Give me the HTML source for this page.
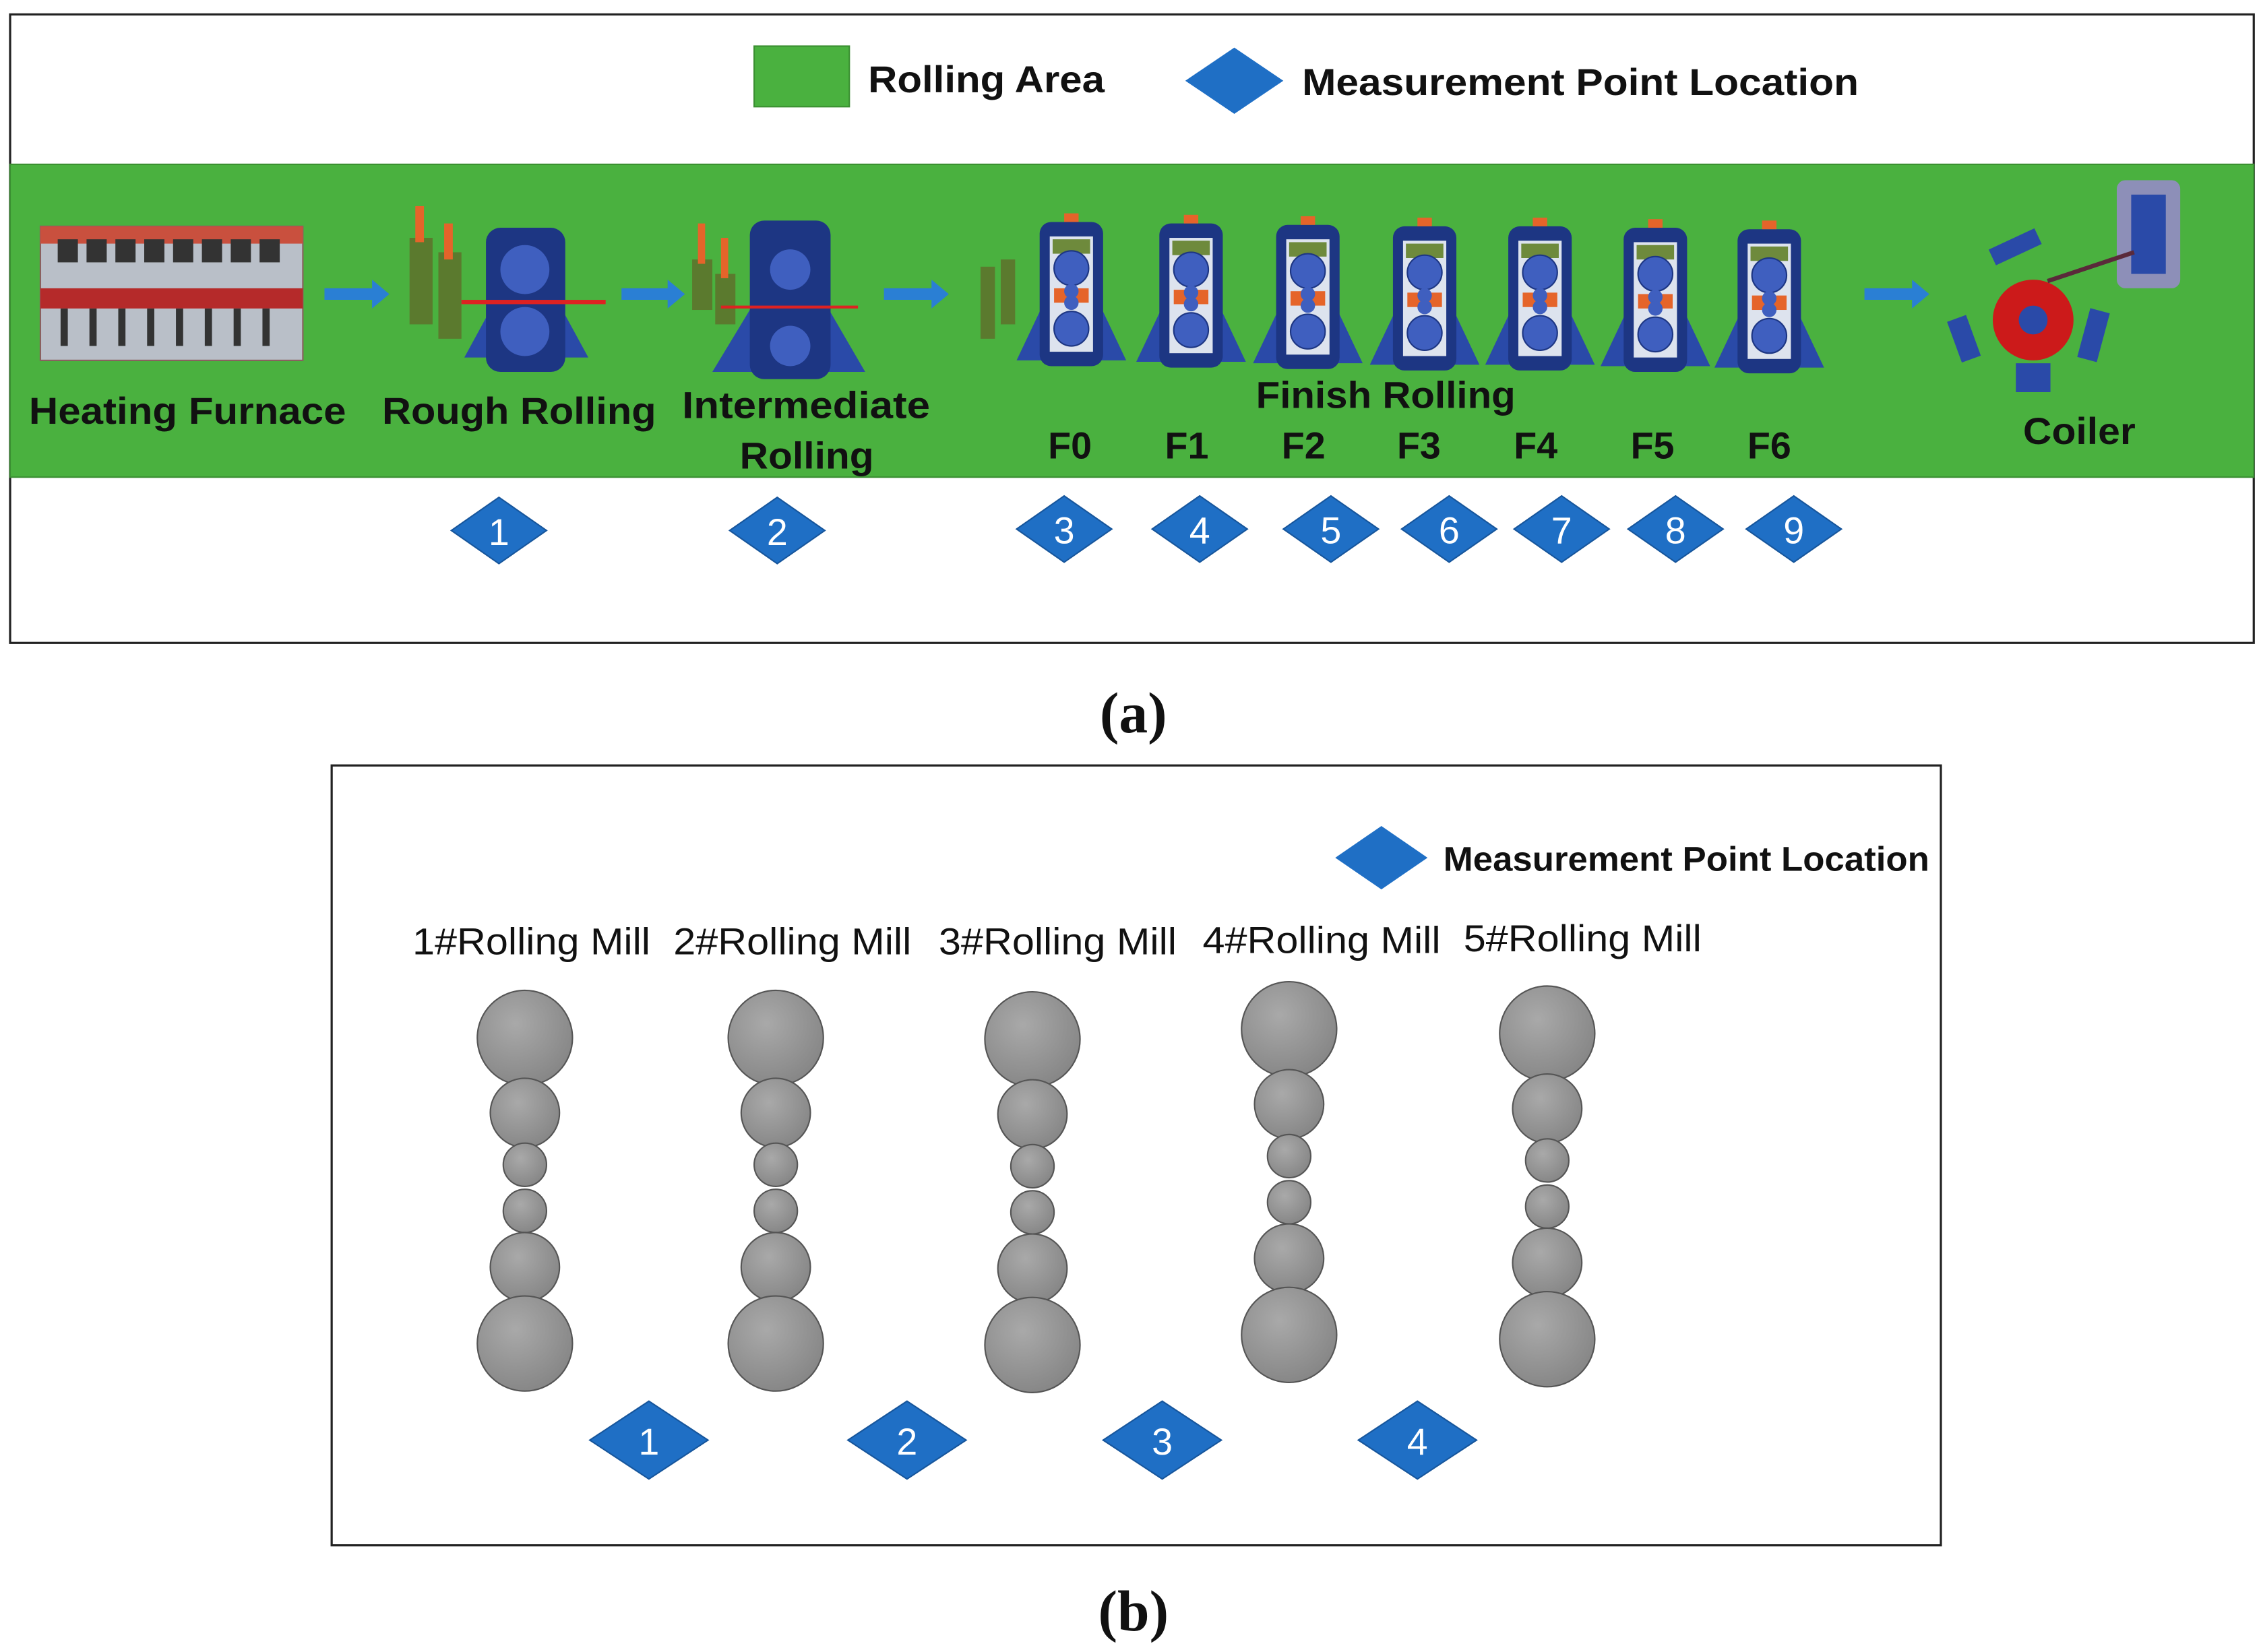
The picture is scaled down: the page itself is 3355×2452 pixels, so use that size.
<!DOCTYPE html>
<html><head><meta charset="utf-8">
<style>
html,body{margin:0;padding:0;background:#fff;}
svg{display:block;}
.s{font-family:"Liberation Sans",sans-serif;}
.r{font-family:"Liberation Serif",serif;}
</style></head>
<body>
<svg width="3355" height="2452" viewBox="0 0 1568 1146" xmlns="http://www.w3.org/2000/svg" class="s">
<defs>
  <g id="dia"><polygon points="-33,0 0,-23 33,0 0,23" fill="#1F6FC5" stroke="#17569c" stroke-width="1"/></g>
  <g id="dib"><polygon points="-41,0 0,-27 41,0 0,27" fill="#1F6FC5" stroke="#17569c" stroke-width="1"/></g>
  <radialGradient id="rg" cx="0.4" cy="0.35" r="0.7">
    <stop offset="0" stop-color="#a9a9a9"/><stop offset="1" stop-color="#858585"/>
  </radialGradient>
  <g id="stand">
    <polygon points="-38,48 -20,10 20,10 38,48" fill="#2a4aa8"/>
    <rect x="-22" y="-48" width="44" height="100" rx="8" fill="#1d3683"/>
    <rect x="-15" y="-38" width="30" height="80" fill="#dde3ee"/>
    <rect x="-13" y="-36" width="26" height="10" fill="#6e8a3c"/>
    <circle cx="0" cy="-16" r="12" fill="#3f5fbf" stroke="#1d3683"/>
    <circle cx="0" cy="26" r="12" fill="#3f5fbf" stroke="#1d3683"/>
    <rect x="-12" y="-2" width="24" height="10" fill="#e5642a"/>
    <circle cx="0" cy="0" r="5" fill="#3f5fbf"/><circle cx="0" cy="8" r="5" fill="#3f5fbf"/>
    <rect x="-5" y="-54" width="10" height="6" fill="#e5642a"/>
  </g>
</defs>

<rect x="7" y="10" width="1556" height="436" fill="#fff" stroke="#222" stroke-width="1.5"/>
<rect x="7" y="114" width="1556" height="217" fill="#4AB13F" stroke="#3a8f31" stroke-width="1"/>

<rect x="523" y="32" width="66" height="42" fill="#4AB13F" stroke="#3a8f31"/>
<text x="602" y="64" font-size="26" font-weight="bold" fill="#111" textLength="164" lengthAdjust="spacingAndGlyphs">Rolling Area</text>
<polygon points="822,56 856,33 890,56 856,79" fill="#1F6FC5"/>
<text x="903" y="66" font-size="26" font-weight="bold" fill="#111" textLength="386" lengthAdjust="spacingAndGlyphs">Measurement Point Location</text>

<rect x="28" y="157" width="182" height="93" fill="#b9bfc8" stroke="#8a6060"/>
<rect x="28" y="157" width="182" height="12" fill="#c9503e"/>
<rect x="28" y="200" width="182" height="14" fill="#b52a2a"/>
<g fill="#333">
<rect x="40" y="166" width="14" height="16"/><rect x="60" y="166" width="14" height="16"/><rect x="80" y="166" width="14" height="16"/><rect x="100" y="166" width="14" height="16"/><rect x="120" y="166" width="14" height="16"/><rect x="140" y="166" width="14" height="16"/><rect x="160" y="166" width="14" height="16"/><rect x="180" y="166" width="14" height="16"/>
<rect x="42" y="214" width="5" height="26"/><rect x="62" y="214" width="5" height="26"/><rect x="82" y="214" width="5" height="26"/><rect x="102" y="214" width="5" height="26"/><rect x="122" y="214" width="5" height="26"/><rect x="142" y="214" width="5" height="26"/><rect x="162" y="214" width="5" height="26"/><rect x="182" y="214" width="5" height="26"/>
</g>
<g fill="#2a7fd4">
<polygon points="225,200 258,200 258,194 270,204 258,214 258,208 225,208"/>
<polygon points="431,200 463,200 463,194 475,204 463,214 463,208 431,208"/>
<polygon points="613,200 646,200 646,194 658,204 646,214 646,208 613,208"/>
<polygon points="1293,200 1326,200 1326,194 1338,204 1326,214 1326,208 1293,208"/>
</g>
<g><rect x="284" y="165" width="16" height="60" fill="#5b7a2e"/><rect x="288" y="143" width="6" height="25" fill="#e5642a"/>
<rect x="304" y="175" width="16" height="60" fill="#5b7a2e"/><rect x="308" y="155" width="6" height="25" fill="#e5642a"/>
<polygon points="322,248 340,215 390,215 408,248" fill="#2a4aa8"/>
<rect x="337" y="158" width="55" height="100" rx="10" fill="#1d3683"/>
<circle cx="364" cy="187" r="17" fill="#3f5fbf"/><circle cx="364" cy="230" r="17" fill="#3f5fbf"/>
<rect x="320" y="208" width="100" height="3" fill="#d22"/></g>
<g><rect x="480" y="180" width="14" height="35" fill="#5b7a2e"/><rect x="484" y="155" width="5" height="28" fill="#e5642a"/>
<rect x="496" y="190" width="14" height="35" fill="#5b7a2e"/><rect x="500" y="165" width="5" height="28" fill="#e5642a"/>
<polygon points="494,258 520,215 575,215 600,258" fill="#2a4aa8"/>
<rect x="520" y="153" width="56" height="110" rx="10" fill="#1d3683"/>
<circle cx="548" cy="187" r="14" fill="#3f5fbf"/><circle cx="548" cy="240" r="14" fill="#3f5fbf"/>
<rect x="500" y="212" width="95" height="2" fill="#d22"/></g>
<rect x="680" y="185" width="10" height="50" fill="#5b7a2e"/><rect x="694" y="180" width="10" height="45" fill="#5b7a2e"/>
<use href="#stand" x="743" y="202"/><use href="#stand" x="826" y="203"/><use href="#stand" x="907" y="204"/>
<use href="#stand" x="988" y="205"/><use href="#stand" x="1068" y="205"/><use href="#stand" x="1148" y="206"/><use href="#stand" x="1227" y="207"/>
<circle cx="1410" cy="222" r="28" fill="#cc1a1a"/><circle cx="1410" cy="222" r="10" fill="#2a4aa8"/>
<rect x="1468" y="125" width="44" height="75" rx="6" fill="#8d8fb8"/><rect x="1478" y="135" width="24" height="55" fill="#2a4aa8"/>
<rect x="1355" y="220" width="14" height="30" fill="#2a4aa8" transform="rotate(-20 1362 235)"/>
<rect x="1445" y="215" width="14" height="35" fill="#2a4aa8" transform="rotate(15 1452 232)"/>
<rect x="1380" y="165" width="35" height="12" fill="#2a4aa8" transform="rotate(-25 1398 171)"/>
<rect x="1398" y="252" width="24" height="20" fill="#2a4aa8"/>
<line x1="1420" y1="195" x2="1480" y2="175" stroke="#5a2a3a" stroke-width="3"/>

<g font-size="26" font-weight="bold" fill="#111">
<text x="20" y="294" textLength="220" lengthAdjust="spacingAndGlyphs">Heating Furnace</text>
<text x="265" y="294" textLength="190" lengthAdjust="spacingAndGlyphs">Rough Rolling</text>
<text x="473" y="290" textLength="172" lengthAdjust="spacingAndGlyphs">Intermediate</text>
<text x="513" y="325" textLength="93" lengthAdjust="spacingAndGlyphs">Rolling</text>
<text x="871" y="283" textLength="180" lengthAdjust="spacingAndGlyphs">Finish Rolling</text>
<text x="1403" y="308" textLength="78" lengthAdjust="spacingAndGlyphs">Coiler</text>
<g text-anchor="middle"><text x="742" y="318">F0</text><text x="823" y="318">F1</text><text x="904" y="318">F2</text><text x="984" y="318">F3</text><text x="1065" y="318">F4</text><text x="1146" y="318">F5</text><text x="1227" y="318">F6</text></g>
</g>
<g font-size="26" fill="#fff" text-anchor="middle">
<use href="#dia" x="346" y="368"/><text x="346" y="378">1</text>
<use href="#dia" x="539" y="368"/><text x="539" y="378">2</text>
<use href="#dia" x="738" y="367"/><text x="738" y="377">3</text>
<use href="#dia" x="832" y="367"/><text x="832" y="377">4</text>
<use href="#dia" x="923" y="367"/><text x="923" y="377">5</text>
<use href="#dia" x="1005" y="367"/><text x="1005" y="377">6</text>
<use href="#dia" x="1083" y="367"/><text x="1083" y="377">7</text>
<use href="#dia" x="1162" y="367"/><text x="1162" y="377">8</text>
<use href="#dia" x="1244" y="367"/><text x="1244" y="377">9</text>
</g>
<text x="786" y="508" style="font-family:'Liberation Serif',serif" font-size="40" font-weight="bold" text-anchor="middle" fill="#111">(a)</text>

<rect x="230" y="531" width="1116" height="541" fill="#fff" stroke="#222" stroke-width="1.5"/>
<polygon points="926,595 958,573 990,595 958,617" fill="#1F6FC5"/>
<text x="1001" y="604" font-size="24" font-weight="bold" fill="#111" textLength="337" lengthAdjust="spacingAndGlyphs">Measurement Point Location</text>
<g font-size="26" fill="#111">
<text x="286" y="662" textLength="165" lengthAdjust="spacingAndGlyphs">1#Rolling Mill</text>
<text x="467" y="662" textLength="165" lengthAdjust="spacingAndGlyphs">2#Rolling Mill</text>
<text x="651" y="662" textLength="165" lengthAdjust="spacingAndGlyphs">3#Rolling Mill</text>
<text x="834" y="661" textLength="165" lengthAdjust="spacingAndGlyphs">4#Rolling Mill</text>
<text x="1015" y="660" textLength="165" lengthAdjust="spacingAndGlyphs">5#Rolling Mill</text>
</g>
<g id="stack1">
<circle cx="364" cy="720" r="33" fill="url(#rg)" stroke="#555"/><circle cx="364" cy="772" r="24" fill="url(#rg)" stroke="#555"/>
<circle cx="364" cy="808" r="15" fill="url(#rg)" stroke="#555"/><circle cx="364" cy="840" r="15" fill="url(#rg)" stroke="#555"/>
<circle cx="364" cy="879" r="24" fill="url(#rg)" stroke="#555"/><circle cx="364" cy="932" r="33" fill="url(#rg)" stroke="#555"/>
</g>
<use href="#stack1" x="174" y="0"/>
<use href="#stack1" x="352" y="1"/>
<use href="#stack1" x="530" y="-6"/>
<use href="#stack1" x="709" y="-3"/>
<g font-size="26" fill="#fff" text-anchor="middle">
<use href="#dib" x="450" y="999"/><text x="450" y="1009">1</text>
<use href="#dib" x="629" y="999"/><text x="629" y="1009">2</text>
<use href="#dib" x="806" y="999"/><text x="806" y="1009">3</text>
<use href="#dib" x="983" y="999"/><text x="983" y="1009">4</text>
</g>
<text x="786" y="1131" style="font-family:'Liberation Serif',serif" font-size="40" font-weight="bold" text-anchor="middle" fill="#111">(b)</text>
</svg>
</body></html>
